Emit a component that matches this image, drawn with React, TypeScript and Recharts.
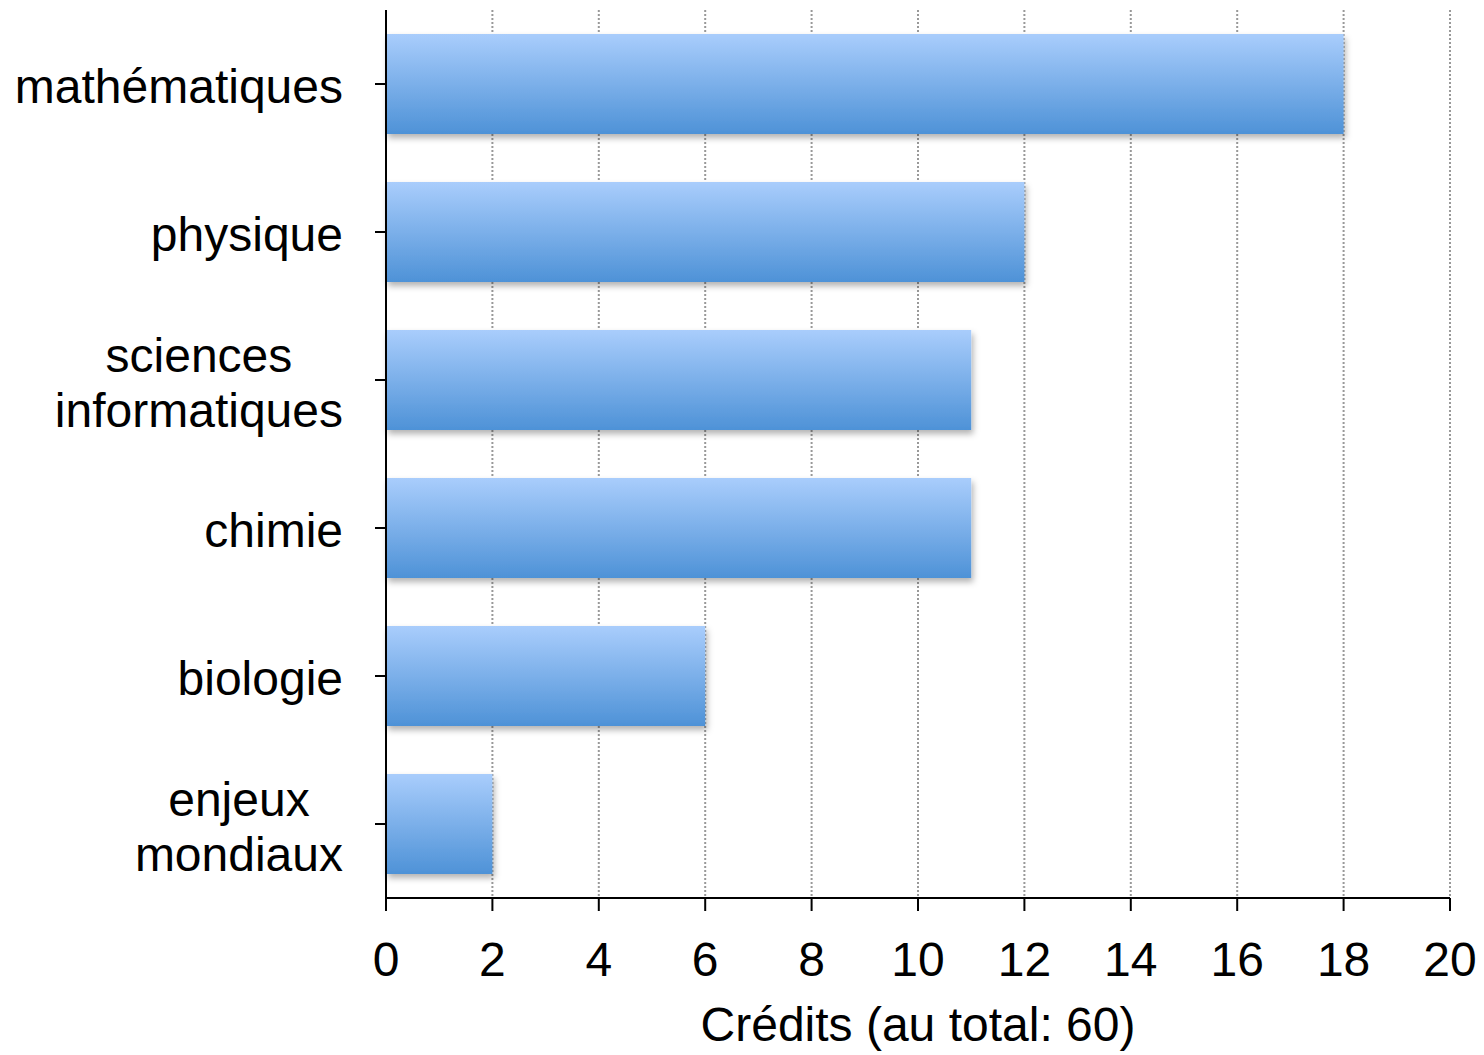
import { BarChart, Bar, XAxis, YAxis, CartesianGrid } from "recharts";

const categories = [
  "mathématiques",
  "physique",
  "sciences\ninformatiques",
  "chimie",
  "biologie",
  "enjeux\nmondiaux",
];
const credits = [18, 12, 11, 11, 6, 2];
const xTicks = [0, 2, 4, 6, 8, 10, 12, 14, 16, 18, 20];

const data = categories.map((name, i) => ({ name, credits: credits[i] }));

const FONT = "'Liberation Sans', Arial, Helvetica, sans-serif";
const FONT_SIZE = 48;
const LINE_HEIGHT = 55;

let ctx: CanvasRenderingContext2D | null = null;
function textWidth(s: string) {
  if (!ctx) {
    ctx = document.createElement("canvas").getContext("2d");
  }
  if (!ctx) return s.length * FONT_SIZE * 0.5;
  ctx.font = `${FONT_SIZE}px ${FONT}`;
  return ctx.measureText(s).width;
}

function CategoryTick(props: any) {
  const { x, y, payload } = props;
  const lines: string[] = String(payload.value).split("\n");
  const maxW = Math.max(...lines.map(textWidth));
  const cx = x - maxW / 2;
  const first = y + 2 - ((lines.length - 1) * LINE_HEIGHT) / 2;
  return (
    <text
      x={cx}
      y={first}
      textAnchor="middle"
      fontFamily={FONT}
      fontSize={FONT_SIZE}
      fill="#000"
    >
      {lines.map((l, i) => (
        <tspan key={i} x={cx} y={first + i * LINE_HEIGHT} dy="0.355em">
          {l}
        </tspan>
      ))}
    </text>
  );
}

export default function App() {
  return (
    <div style={{ position: "absolute", left: 0, top: 0, background: "#fff" }}>
      <BarChart
        width={1484}
        height={1055}
        data={data}
        layout="vertical"
        barCategoryGap={0}
        margin={{ top: 10, right: 34, bottom: 0, left: 0 }}
      >
        <defs>
          <linearGradient id="barFill" x1="0" y1="0" x2="0" y2="1">
            <stop offset="0%" stopColor="#a9cdfc" />
            <stop offset="100%" stopColor="#4e92d7" />
          </linearGradient>
          <filter id="barShadow" x="-5%" y="-10%" width="115%" height="140%">
            <feDropShadow dx="2" dy="4" stdDeviation="3" floodColor="#000" floodOpacity="0.3" />
          </filter>
        </defs>
        <CartesianGrid
          horizontal={false}
          stroke="#999999"
          strokeWidth={2}
          strokeDasharray="2 2"
        />
        <XAxis
          type="number"
          domain={[0, 20]}
          ticks={xTicks}
          height={157}
          tickSize={13}
          tickMargin={31}
          axisLine={{ stroke: "#000", strokeWidth: 2 }}
          tickLine={{ stroke: "#000", strokeWidth: 2 }}
          tick={{ fill: "#000", fontSize: FONT_SIZE, fontFamily: FONT }}
          label={{
            value: "Crédits (au total: 60)",
            position: "insideBottom",
            offset: 14,
            fill: "#000",
            fontSize: FONT_SIZE,
            fontFamily: FONT,
          }}
        />
        <YAxis
          type="category"
          dataKey="name"
          width={386}
          tickSize={11}
          tickMargin={32}
          interval={0}
          axisLine={{ stroke: "#000", strokeWidth: 2 }}
          tickLine={{ stroke: "#000", strokeWidth: 2 }}
          tick={<CategoryTick />}
        />
        <Bar
          dataKey="credits"
          barSize={100}
          fill="url(#barFill)"
          filter="url(#barShadow)"
          isAnimationActive={false}
        />
      </BarChart>
    </div>
  );
}
